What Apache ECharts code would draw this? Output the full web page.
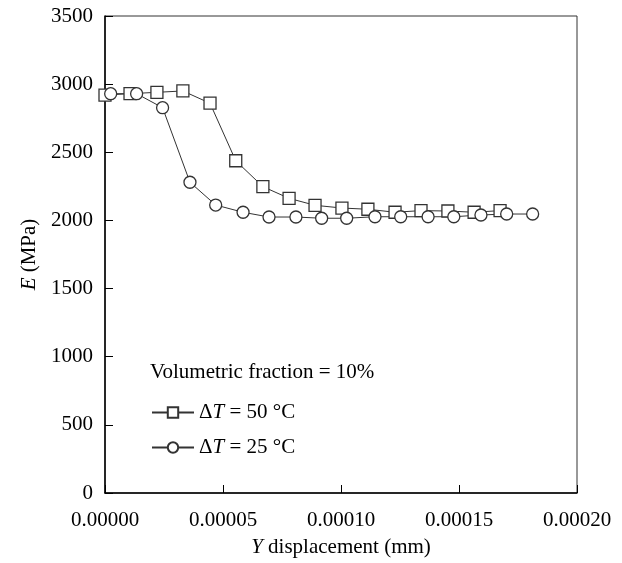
<!DOCTYPE html>
<html>
<head>
<meta charset="utf-8">
<script src="https://cdn.jsdelivr.net/npm/echarts@6/dist/echarts.min.js"></script>
<style>
html,body{margin:0;padding:0;background:#fff;}
#chart{width:622px;height:563px;}
</style>
</head>
<body>
<div id="chart"></div>
<script>
var dt50X = [0, 1.06e-5, 2.2e-5, 3.3e-5, 4.45e-5, 5.54e-5, 6.69e-5, 7.80e-5, 8.90e-5, 1.004e-4, 1.114e-4, 1.229e-4, 1.339e-4, 1.453e-4, 1.564e-4, 1.674e-4];
var dt50Y = [2920, 2930, 2940, 2950, 2860, 2438, 2248, 2162, 2111, 2091, 2082, 2060, 2072, 2069, 2060, 2072];
var dt25X = [2.4e-6, 1.34e-5, 2.44e-5, 3.60e-5, 4.69e-5, 5.85e-5, 6.95e-5, 8.09e-5, 9.18e-5, 1.024e-4, 1.144e-4, 1.253e-4, 1.369e-4, 1.478e-4, 1.593e-4, 1.702e-4, 1.812e-4];
var dt25Y = [2930, 2930, 2827, 2280, 2113, 2060, 2025, 2025, 2016, 2016, 2027, 2027, 2027, 2027, 2040, 2047, 2047];
var seriesNames = ['dt50', 'dt25'];
var seriesLabels = {dt50: '50 °C', dt25: '25 °C'};
var annotation = 'Volumetric fraction = 10%';

var FONT = '"Liberation Serif", "Times New Roman", serif';
function zip(xs, ys) { return xs.map(function (x, i) { return [x, ys[i]]; }); }

var chart = echarts.init(document.getElementById('chart'));
chart.setOption({
  backgroundColor: '#fff',
  animation: false,
  textStyle: {fontFamily: FONT, color: '#000'},
  grid: {left: 105, right: 45, top: 16, bottom: 70, show: true, borderColor: '#333', borderWidth: 1},
  xAxis: {
    type: 'value', min: 0, max: 0.0002, interval: 0.00005,
    name: '{i|Y}{n| displacement (mm)}', nameLocation: 'middle', nameGap: 44,
    nameTextStyle: {rich: {i: {fontStyle: 'italic', fontSize: 21, fontFamily: FONT, color: '#000'}, n: {fontSize: 21, fontFamily: FONT, color: '#000'}}},
    axisLine: {lineStyle: {color: '#000', width: 1.5}},
    axisTick: {inside: true, length: 8, lineStyle: {color: '#000', width: 1}},
    axisLabel: {fontSize: 21, color: '#000', fontFamily: FONT, margin: 17, formatter: function (v) { return v.toFixed(5); }},
    splitLine: {show: false}
  },
  yAxis: {
    type: 'value', min: 0, max: 3500, interval: 500,
    name: '{i|E}{n| (MPa)}', nameLocation: 'middle', nameGap: 60,
    nameTextStyle: {rich: {i: {fontStyle: 'italic', fontSize: 21, fontFamily: FONT, color: '#000'}, n: {fontSize: 21, fontFamily: FONT, color: '#000'}}},
    axisLine: {lineStyle: {color: '#000', width: 1.5}},
    axisTick: {inside: true, length: 8, lineStyle: {color: '#000', width: 1}},
    axisLabel: {fontSize: 21, color: '#000', fontFamily: FONT, margin: 12, formatter: function (v) { return String(v); }},
    splitLine: {show: false}
  },
  legend: {
    orient: 'vertical', left: 146, top: 397,
    itemWidth: 42, itemHeight: 13, itemGap: 14,
    data: seriesNames,
    formatter: function (n) { return '{d|Δ}{i|T}{d| = ' + seriesLabels[n] + '}'; },
    textStyle: {
      fontFamily: FONT, fontSize: 21, color: '#000', lineHeight: 21,
      rich: {
        d: {fontFamily: FONT, fontSize: 21, color: '#000', padding: [0, 0, 0, 0]},
        i: {fontFamily: FONT, fontSize: 21, fontStyle: 'italic', color: '#000'}
      }
    }
  },
  graphic: [{
    type: 'text', left: 150, top: 362,
    style: {text: annotation, font: '21px ' + FONT, fill: '#000'}
  }],
  series: [{
    name: 'dt50', type: 'line', data: zip(dt50X, dt50Y),
    symbol: 'rect', symbolSize: 12,
    lineStyle: {color: '#333', width: 1},
    itemStyle: {color: '#fff', borderColor: '#333', borderWidth: 1.3}
  }, {
    name: 'dt25', type: 'line', data: zip(dt25X, dt25Y),
    symbol: 'circle', symbolSize: 12,
    lineStyle: {color: '#333', width: 1},
    itemStyle: {color: '#fff', borderColor: '#333', borderWidth: 1.3}
  }]
});
</script>
</body>
</html>
